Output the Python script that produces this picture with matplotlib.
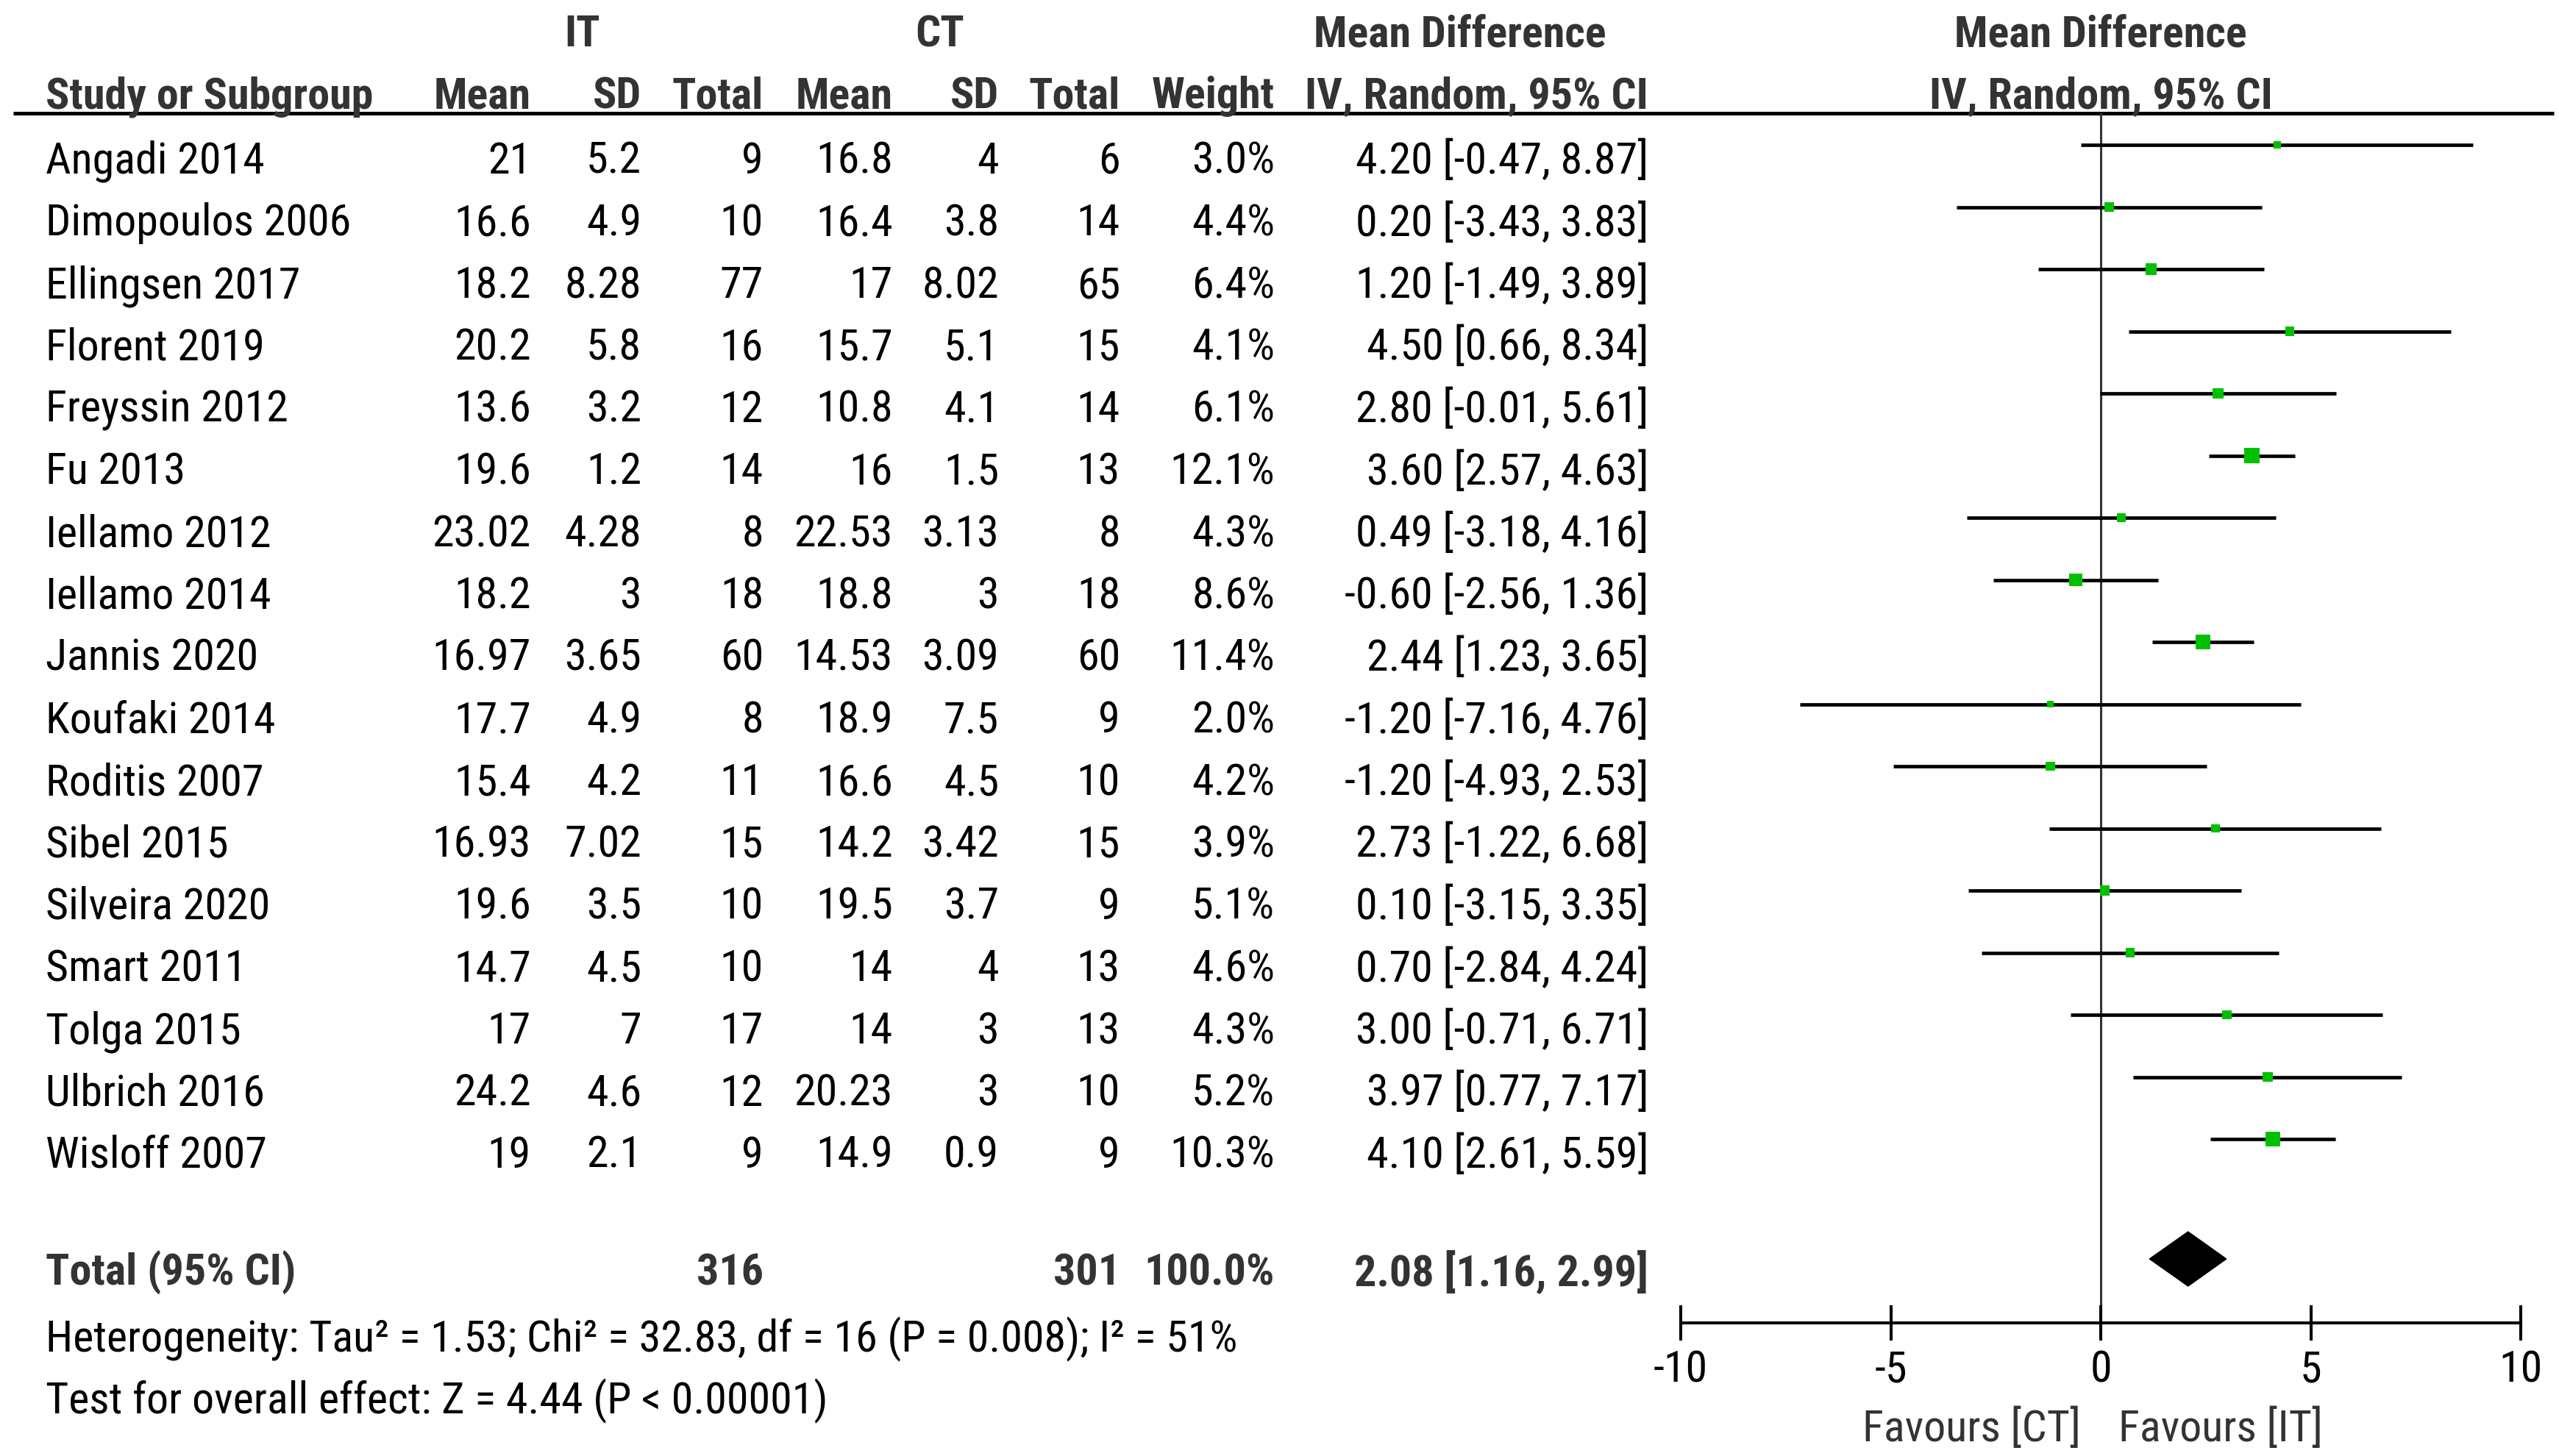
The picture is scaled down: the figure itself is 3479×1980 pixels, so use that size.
import matplotlib
matplotlib.use("Agg")
import matplotlib.pyplot as plt
from matplotlib import font_manager as fm
from matplotlib.transforms import blended_transform_factory
import numpy as np

# data
studies = ["Angadi 2014", "Dimopoulos 2006", "Ellingsen 2017", "Florent 2019",
           "Freyssin 2012", "Fu 2013", "Iellamo 2012", "Iellamo 2014",
           "Jannis 2020", "Koufaki 2014", "Roditis 2007", "Sibel 2015",
           "Silveira 2020", "Smart 2011", "Tolga 2015", "Ulbrich 2016",
           "Wisloff 2007"]
it_mean = ["21", "16.6", "18.2", "20.2", "13.6", "19.6", "23.02", "18.2", "16.97",
           "17.7", "15.4", "16.93", "19.6", "14.7", "17", "24.2", "19"]
it_sd = ["5.2", "4.9", "8.28", "5.8", "3.2", "1.2", "4.28", "3", "3.65",
         "4.9", "4.2", "7.02", "3.5", "4.5", "7", "4.6", "2.1"]
it_n = [9, 10, 77, 16, 12, 14, 8, 18, 60, 8, 11, 15, 10, 10, 17, 12, 9]
ct_mean = ["16.8", "16.4", "17", "15.7", "10.8", "16", "22.53", "18.8", "14.53",
           "18.9", "16.6", "14.2", "19.5", "14", "14", "20.23", "14.9"]
ct_sd = ["4", "3.8", "8.02", "5.1", "4.1", "1.5", "3.13", "3", "3.09",
         "7.5", "4.5", "3.42", "3.7", "4", "3", "3", "0.9"]
ct_n = [6, 14, 65, 15, 14, 13, 8, 18, 60, 9, 10, 15, 9, 13, 13, 10, 9]
weight = [3.0, 4.4, 6.4, 4.1, 6.1, 12.1, 4.3, 8.6, 11.4, 2.0, 4.2, 3.9, 5.1, 4.6, 4.3, 5.2, 10.3]
md = [4.20, 0.20, 1.20, 4.50, 2.80, 3.60, 0.49, -0.60, 2.44, -1.20, -1.20, 2.73, 0.10, 0.70, 3.00, 3.97, 4.10]
lo = [-0.47, -3.43, -1.49, 0.66, -0.01, 2.57, -3.18, -2.56, 1.23, -7.16, -4.93, -1.22, -3.15, -2.84, -0.71, 0.77, 2.61]
hi = [8.87, 3.83, 3.89, 8.34, 5.61, 4.63, 4.16, 1.36, 3.65, 4.76, 2.53, 6.68, 3.35, 4.24, 6.71, 7.17, 5.59]

total_it = 316
total_ct = 301
pooled = [2.08, 1.16, 2.99]
heterogeneity = "Heterogeneity: Tau\u00b2 = 1.53; Chi\u00b2 = 32.83, df = 16 (P = 0.008); I\u00b2 = 51%"
overall = "Test for overall effect: Z = 4.44 (P < 0.00001)"
x_ticks = [-10, -5, 0, 5, 10]


def pick_font():
    # the original uses a narrow Arial-like face; take a condensed one if there is one
    names = {f.name for f in fm.fontManager.ttflist}
    for fam in ['Liberation Sans Narrow', 'Arial Narrow', 'Roboto Condensed',
                'Open Sans Condensed', 'Noto Sans Condensed', 'DejaVu Sans Condensed']:
        if fam in names:
            return fam, 'normal'
    for fam in ['Noto Sans', 'Roboto', 'Open Sans', 'DejaVu Sans']:
        for f in fm.fontManager.ttflist:
            if f.name == fam and str(f.stretch) in ('condensed', 'semi-condensed',
                                                    'extra-condensed'):
                return fam, f.stretch
    return 'Liberation Sans', 'normal'


family, stretch = pick_font()

W, H = 3479, 1980
fig = plt.figure(figsize=(W / 100, H / 100), dpi=100)

# text layer in pixel coordinates
ax = fig.add_axes([0, 0, 1, 1])
ax.set_xlim(0, W)
ax.set_ylim(H, 0)
ax.axis('off')

# size the font so that the text runs as wide as in the reference
renderer = fig.canvas.get_renderer()
probe = ax.text(0, 0, "Heterogeneity: Tau\u00b2 = 1.53; Chi\u00b2 = 32.83", fontsize=40,
                family=family, fontstretch=stretch)
pw = probe.get_window_extent(renderer).width
probe.remove()
fs = min(46, 40 * 940 / pw)

base = dict(fontsize=fs, family=family, fontstretch=stretch)
hdr = dict(base, fontweight='bold', color='#333333')
body = dict(base, color='black')

row0, step = 236, 84.5       # baseline of first study row, row spacing
cols = [722, 872, 1038, 1214, 1358, 1523, 1733, 2241]  # right edges of columns

ax.text(792, 63, "IT", ha='center', va='baseline', **hdr)
ax.text(1278, 63, "CT", ha='center', va='baseline', **hdr)
ax.text(1985, 63, "Mean Difference", ha='center', va='baseline', **hdr)
ax.text(2856, 63, "Mean Difference", ha='center', va='baseline', **hdr)
ax.text(62, 147, "Study or Subgroup", ha='left', va='baseline', **hdr)
for x, s in zip(cols, ["Mean", "SD", "Total", "Mean", "SD", "Total", "Weight",
                       "IV, Random, 95% CI"]):
    ax.text(x, 147, s, ha='right', va='baseline', **hdr)
ax.text(2856, 147, "IV, Random, 95% CI", ha='center', va='baseline', **hdr)
ax.plot([18, 3472], [154, 154], color='black', lw=3.6, solid_capstyle='butt')

for i, name in enumerate(studies):
    y = row0 + i * step
    ax.text(62, y, name, ha='left', va='baseline', **body)
    vals = [it_mean[i], it_sd[i], str(it_n[i]), ct_mean[i], ct_sd[i], str(ct_n[i]),
            "%.1f%%" % weight[i], "%.2f [%.2f, %.2f]" % (md[i], lo[i], hi[i])]
    for x, s in zip(cols, vals):
        ax.text(x, y, s, ha='right', va='baseline', **body)

ax.text(62, 1748, "Total (95% CI)", ha='left', va='baseline', **hdr)
ax.text(cols[2], 1748, str(total_it), ha='right', va='baseline', **hdr)
ax.text(cols[5], 1748, str(total_ct), ha='right', va='baseline', **hdr)
ax.text(cols[6], 1748, "100.0%", ha='right', va='baseline', **hdr)
ax.text(cols[7], 1748, "%.2f [%.2f, %.2f]" % tuple(pooled), ha='right', va='baseline', **hdr)
ax.text(62, 1838, heterogeneity, ha='left', va='baseline', **body)
ax.text(62, 1922, overall, ha='left', va='baseline', **body)
ax.text(2829, 1960, "Favours [CT]", ha='right', va='baseline', color='#333333', **base)
ax.text(2880, 1960, "Favours [IT]", ha='left', va='baseline', color='#333333', **base)

# forest plot axes: x in mean difference units, y in row index
x0, x1 = 2285, 3427
top_px, bot_px = 154, 1799
axf = fig.add_axes([x0 / W, 1 - bot_px / H, (x1 - x0) / W, (bot_px - top_px) / H])
mark0 = 197
axf.set_xlim(-10, 10)
axf.set_ylim((bot_px - mark0) / step, (top_px - mark0) / step)
axf.patch.set_alpha(0)
for s in ['top', 'left', 'right']:
    axf.spines[s].set_visible(False)
axf.spines['bottom'].set_linewidth(2.9)
axf.set_yticks([])
axf.set_xticks(x_ticks)
axf.set_xticklabels([])
axf.tick_params(axis='x', direction='inout', length=34, width=2.9)
tick_tr = blended_transform_factory(axf.transData, ax.transData)
for t in x_ticks:
    ax.text(t, 1880, str(t), transform=tick_tr, ha='center', va='baseline', **body)

axf.axvline(0, color='#333333', lw=2.2, zorder=1)
rows = np.arange(len(studies))
axf.hlines(rows, lo, hi, color='black', lw=3.4, zorder=2)
side_px = 6.0 * np.sqrt(np.array(weight))
axf.scatter(md, rows, marker='s', s=(side_px / 1.389) ** 2, color='#00c000',
            linewidths=0, zorder=3)

r_tot = (1712 - mark0) / step
h = 37 / step
axf.fill([pooled[1], pooled[0], pooled[2], pooled[0]],
         [r_tot, r_tot - h, r_tot, r_tot + h], color='black', zorder=3)

fig.savefig("out.png", dpi=100)
